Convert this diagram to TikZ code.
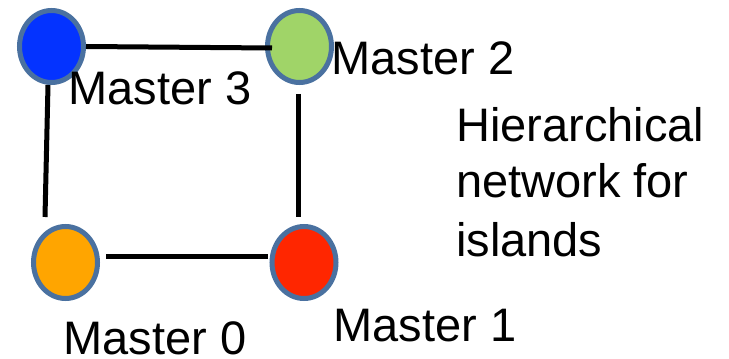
\documentclass[tikz,border=0pt]{standalone}
\usepackage{fontspec}
\setmainfont{Liberation Sans}
\usetikzlibrary{shapes.geometric}
\definecolor{rimblue}{HTML}{4A71A0}
\definecolor{mblue}{HTML}{0433FF}
\definecolor{mgreen}{HTML}{A0D468}
\definecolor{morange}{HTML}{FFA500}
\definecolor{mred}{HTML}{FF2600}
\begin{document}
\begin{tikzpicture}[x=1pt,y=1pt,
  master/.style={ellipse, draw=rimblue, line width=5pt, minimum width=64pt,
                 minimum height=72pt, inner sep=0pt},
  label/.style={anchor=base west, inner sep=0pt, font=\fontsize{47}{57}\selectfont},
  link/.style={line width=5pt, black}]
\useasboundingbox (0,0) rectangle (729,359);

% the four masters
\node[master, fill=mblue]   (m3) at (51.5,312.5) {};
\node[master, fill=mgreen]  (m2) at (299.5,312.5) {};
\node[master, fill=morange] (m0) at (65.5,96.5) {};
\node[master, fill=mred]    (m1) at (304,96.5) {};

% ring links
\draw[link] (m3.east) -- ([xshift=7pt,yshift=-1.5pt]m2.west);
\draw[link] ([xshift=-3.5pt]m3.south) -- ([xshift=-20.5pt,yshift=7pt]m0.north);
\draw[link] ([xshift=-1.5pt,yshift=-9pt]m2.south) -- ([xshift=-6pt,yshift=7pt]m1.north);
\draw[link] ([shift={(6pt,5.5pt)}]m0.east) -- ([shift={(-2pt,5.5pt)}]m1.west);

% labels
\node[label] (l3) at (68.5,254) {Master 3};
\node[label] (l2) at (331.5,284) {Master 2};
\node[label] (l0) at (63.5,4.5) {Master 0};
\node[label] (l1) at (333.5,17) {Master 1};
\node[label] (t1) at (456,217) {Hierarchical};
\node[label] (t2) at (456,161) {network for};
\node[label] (t3) at (456,102) {islands};
\end{tikzpicture}
\end{document}
